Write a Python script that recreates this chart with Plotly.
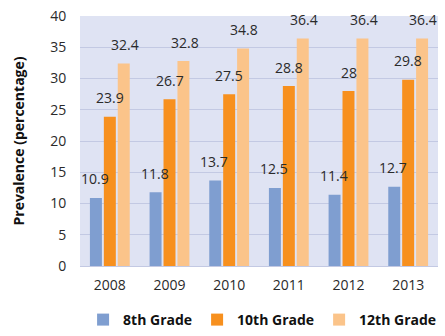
import plotly.graph_objects as go

years = ["2008", "2009", "2010", "2011", "2012", "2013"]
grade8 = [10.9, 11.8, 13.7, 12.5, 11.4, 12.7]
grade10 = [23.9, 26.7, 27.5, 28.8, 28, 29.8]
grade12 = [32.4, 32.8, 34.8, 36.4, 36.4, 36.4]
names = ["8th Grade", "10th Grade", "12th Grade"]
colors = ["#7F9ED0", "#F7901E", "#FBC48A"]

fig = go.Figure()
series = [grade8, grade10, grade12]
for i, (name, vals, c) in enumerate(zip(names, series, colors)):
    fig.add_trace(go.Bar(
        x=years, y=vals, name=name, marker=dict(color=c, line=dict(width=0)),
    ))
    for j, v in enumerate(vals):
        fig.add_annotation(x=j, y=v, xref="x", yref="y", text=str(v), showarrow=False,
                           xshift=(i - 1) * 15, yshift=19, yanchor="middle",
                           font=dict(family="Open Sans", size=14, color="#2a2a2a"))

fig.update_layout(
    width=445, height=336,
    margin=dict(l=80, r=7, t=16, b=70),
    paper_bgcolor="white", plot_bgcolor="#DFE3F3",
    barmode="group", bargap=0.30, bargroupgap=0.14,
    font=dict(family="Open Sans", size=14, color="#2a2a2a"),
    legend=dict(orientation="h", x=0.51, xanchor="center", yref="container",
                y=0.0, yanchor="bottom",
                font=dict(family="Open Sans", size=14, color="#111", weight="bold"),
                itemwidth=30, traceorder="normal"),
)
fig.update_yaxes(range=[0, 40], dtick=5, gridcolor="#C3C9E3", gridwidth=1,
                 zeroline=False, showline=False, ticks="outside", ticklen=10,
                 tickcolor="rgba(0,0,0,0)",
                 title=dict(text="Prevalence (percentage)", standoff=22,
                            font=dict(family="Open Sans", size=14, weight="bold", color="#111")))
fig.update_xaxes(type="category", categoryorder="array", categoryarray=years,
                 range=[-0.5, 5.5],
                 showline=True, linecolor="#C3C9E3", ticks="outside", ticklen=6,
                 tickcolor="rgba(0,0,0,0)")
fig.write_html("out.html")
